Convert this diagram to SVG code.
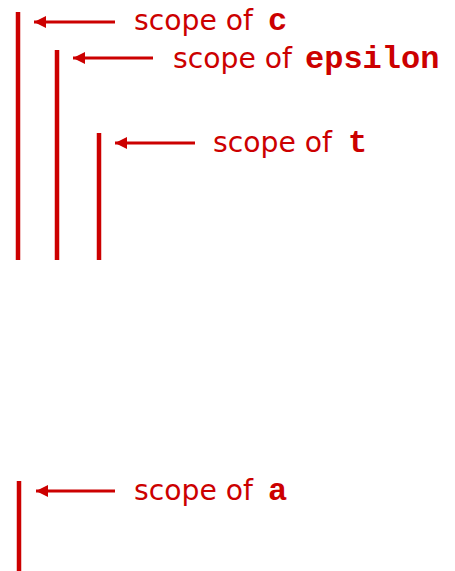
<svg xmlns="http://www.w3.org/2000/svg" width="455" height="571" viewBox="0 0 455 571">
<style>
.bar{stroke:#cc0000;stroke-width:4.5;fill:none}
.arr{stroke:#cc0000;stroke-width:3;fill:none;marker-end:url(#ah)}
.lbl{font-family:"DejaVu Sans",sans-serif;font-size:28px;fill:#cc0000}
.code{font-family:"Liberation Mono",monospace;font-weight:bold;font-size:32px;fill:#cc0000}
</style>
<defs>
<marker id="ah" viewBox="0 0 10 10" refX="10" refY="5" markerWidth="4" markerHeight="4" markerUnits="strokeWidth" orient="auto">
<path d="M0,0 L10,5 L0,10 z" fill="#cc0000"/>
</marker>
</defs>
<g id="scope-c">
<line class="bar" x1="18" y1="12" x2="18" y2="260"/>
<text class="lbl" x="134" y="30" textLength="119" lengthAdjust="spacingAndGlyphs">scope of</text>
<text class="code" x="268" y="30">c</text>
</g>
<g id="scope-epsilon">
<line class="bar" x1="57" y1="50" x2="57" y2="260"/>
<text class="lbl" x="173" y="68" textLength="119" lengthAdjust="spacingAndGlyphs">scope of</text>
<text class="code" x="305" y="68">epsilon</text>
</g>
<g id="scope-t">
<line class="bar" x1="99" y1="133" x2="99" y2="260"/>
<text class="lbl" x="213" y="152" textLength="119" lengthAdjust="spacingAndGlyphs">scope of</text>
<text class="code" x="348" y="152">t</text>
</g>
<g id="scope-a">
<line class="bar" x1="19" y1="481" x2="19" y2="571"/>
<text class="lbl" x="134" y="500" textLength="119" lengthAdjust="spacingAndGlyphs">scope of</text>
<text class="code" x="268" y="500">a</text>
</g>
<g id="connectors">
<line class="arr" x1="115" y1="22" x2="34" y2="22"/>
<line class="arr" x1="153" y1="58" x2="73" y2="58"/>
<line class="arr" x1="195" y1="143" x2="115" y2="143"/>
<line class="arr" x1="115" y1="491" x2="36" y2="491"/>
</g>
</svg>
